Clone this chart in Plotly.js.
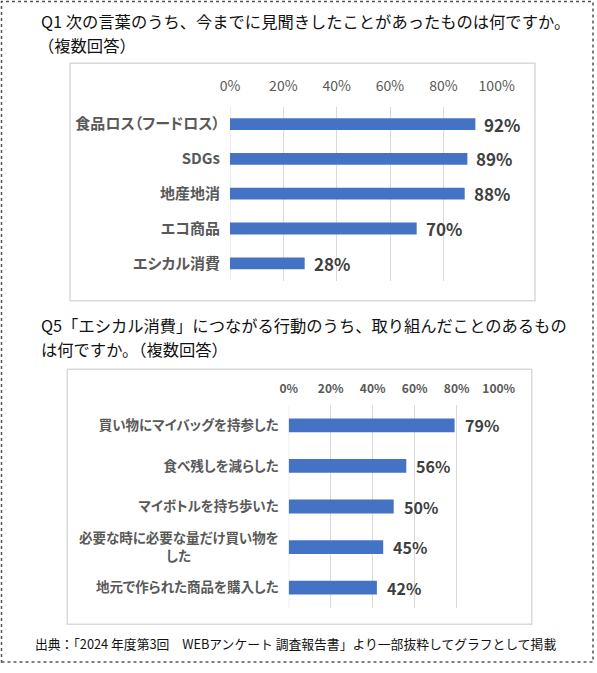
<!DOCTYPE html>
<html>
<head>
<meta charset="utf-8">
<script src="https://cdn.plot.ly/plotly-3.0.1.min.js"></script>
<style>
html,body{margin:0;padding:0;background:#fff;}
#chart{width:597px;height:673px;}
.ytick text, .y2tick text { font-feature-settings: "palt"; }
</style>
</head>
<body>
<div id="chart"></div>
<script>
// ---- Data ----
var q1Categories = ["食品ロス（フードロス）", "SDGs", "地産地消", "エコ商品", "エシカル消費"];
var q1Values = [92, 89, 88, 70, 28];

var q5Categories = ["買い物にマイバッグを持参した", "食べ残しを減らした", "マイボトルを持ち歩いた",
  "必要な時に必要な量だけ買い物を<br>した　　　　　　\u2002", "地元で作られた商品を購入した"];
var q5Values = [79, 56, 50, 45, 42];

var tickVals = [0, 20, 40, 60, 80, 100];
var tickLabels = ["0%", "20%", "40%", "60%", "80%", "100%"];

var q1TitleLines = ["Q1 次の言葉のうち、今までに見聞きしたことがあったものは何ですか。", "（複数回答）"];
var q5TitleLines = ["Q5「エシカル消費」につながる行動のうち、取り組んだことのあるもの", "は何ですか。（複数回答）"];
var sourceText = "出典：「2024 年度第3回　WEBアンケート 調査報告書」より一部抜粋してグラフとして掲載";

// ---- Helpers ----
var W = 597, H = 673;
function px(x){ return x / W; }
function py(y){ return 1 - y / H; }
var FONT = "Noto Sans CJK JP, Noto Sans, sans-serif";
var BAR = "#4472C4";
var GRID = "#d9d9d9";

var traces = [
  {type:"bar", orientation:"h", x:q1Values, y:q1Categories, xaxis:"x", yaxis:"y",
   marker:{color:BAR}, hoverinfo:"skip", showlegend:false},
  {type:"bar", orientation:"h", x:q5Values, y:q5Categories, xaxis:"x2", yaxis:"y2",
   marker:{color:BAR}, hoverinfo:"skip", showlegend:false}
];

var annotations = [];
q1Values.forEach(function(v, i){
  annotations.push({x:v, y:q1Categories[i], xref:"x", yref:"y", text:v + "%", showarrow:false,
    xanchor:"left", yanchor:"middle", xshift:7,
    font:{family:FONT, size:17, color:"#404040", weight:"bold"}});
});
q5Values.forEach(function(v, i){
  annotations.push({x:v, y:q5Categories[i], xref:"x2", yref:"y2", text:v + "%", showarrow:false,
    xanchor:"left", yanchor:"middle", xshift:8,
    font:{family:FONT, size:16, color:"#404040", weight:"bold"}});
});
function titleAnn(text, x, y, size){
  return {text:text, x:px(x), y:py(y), xref:"paper", yref:"paper", xanchor:"left", yanchor:"middle",
    showarrow:false, font:{family:FONT, size:size, color:"#111"}};
}
annotations.push(titleAnn(q1TitleLines[0], 39, 21, 16.3));
annotations.push(titleAnn(q1TitleLines[1], 36, 45, 16.3));
annotations.push(titleAnn(q5TitleLines[0], 39, 325, 16.3));
annotations.push(titleAnn(q5TitleLines[1], 39, 349, 16.3));
annotations.push(titleAnn(sourceText, 33, 643, 12.8));

function rect(x0, y0, x1, y1, line){
  return {type:"rect", xref:"paper", yref:"paper", x0:px(x0), x1:px(x1), y0:py(y1), y1:py(y0),
    line:line, fillcolor:"rgba(0,0,0,0)", layer:"below"};
}
function zeroLine(xref, yref){
  return {type:"line", xref:xref, yref:yref + " domain", x0:tickVals[0], x1:tickVals[0], y0:0, y1:1,
    line:{color:GRID, width:1}, layer:"below"};
}
var shapes = [
  rect(1.5, 1.5, 593, 662, {color:"#555", width:1.5, dash:"dot"}),
  rect(70, 63.3, 535, 300.7, {color:GRID, width:1.5}),
  rect(67.3, 369.3, 531.7, 624.3, {color:GRID, width:1.5}),
  zeroLine("x", "y"),
  zeroLine("x2", "y2")
];

function xAxis(domain, anchor, size, bold, standoff){
  return {domain:domain, anchor:anchor, range:[0,100], side:"top", tickmode:"array",
    tickvals:tickVals, ticktext:tickLabels,
    showgrid:true, gridcolor:GRID, gridwidth:1,
    zeroline:false, showline:false, ticks:"",
    ticklabelstandoff:standoff,
    tickfont:{family:FONT, size:size, color:"#595959", weight: bold ? "bold" : "normal"}, fixedrange:true};
}
function yAxis(domain, anchor, cats, size, standoff){
  return {domain:domain, anchor:anchor, type:"category", categoryorder:"array", categoryarray:cats,
    autorange:"reversed", showgrid:false, zeroline:false, showline:false, ticks:"",
    ticklabelstandoff:standoff,
    tickfont:{family:FONT, size:size, color:"#595959", weight:"bold"}, fixedrange:true};
}

var layout = {
  width:W, height:H, margin:{l:0, r:0, t:0, b:0},
  paper_bgcolor:"#fff", plot_bgcolor:"rgba(0,0,0,0)",
  bargap:0.66, showlegend:false,
  xaxis: xAxis([px(230), px(496.7)], "y", 14, false, 12),
  yaxis: yAxis([py(280.7), py(106.7)], "x", q1Categories, 15, 9),
  xaxis2: xAxis([px(288.7), px(498.7)], "y2", 12, true, 9),
  yaxis2: yAxis([py(608), py(405)], "x2", q5Categories, 13.5, 9),
  annotations:annotations, shapes:shapes
};

Plotly.newPlot("chart", traces, layout, {displayModeBar:false, staticPlot:true});
</script>
</body>
</html>
